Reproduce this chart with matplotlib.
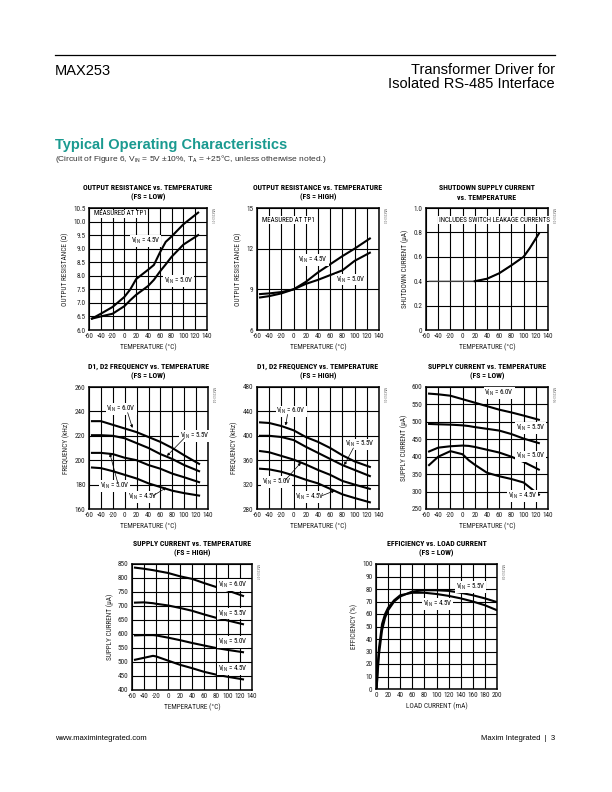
import matplotlib
matplotlib.use("Agg")
import matplotlib.pyplot as plt
from matplotlib import font_manager

# pick a narrow font if one is installed
fl = font_manager.fontManager.ttflist
names = {f.name for f in fl}
NARROW = None
for cand in ["Liberation Sans Narrow", "Roboto Condensed", "DejaVu Sans Condensed",
             "Open Sans Condensed", "Noto Sans Condensed"]:
    if cand in names:
        NARROW = cand
        break
STRETCH = "normal"
if NARROW is None:
    cond = [f for f in fl if f.stretch in ("condensed", "semi-condensed", "extra-condensed")
            or "Condensed" in f.name or "Narrow" in f.name]
    if cond:
        NARROW = cond[0].name
        STRETCH = cond[0].stretch if isinstance(cond[0].stretch, str) else "condensed"
if NARROW is None:
    NARROW = "DejaVu Sans"
    K = 0.82
else:
    K = 1.0
PAGE = "Liberation Sans" if "Liberation Sans" in names else "DejaVu Sans"
plt.rcParams["font.family"] = [NARROW, "DejaVu Sans"]
plt.rcParams["font.stretch"] = STRETCH
plt.rcParams["mathtext.fontset"] = "custom"
plt.rcParams["mathtext.rm"] = NARROW
plt.rcParams["mathtext.default"] = "rm"
plt.rcParams["axes.unicode_minus"] = False

# ---------------- data ----------------
temp = [-55, -40, -20, 0, 20, 40, 60, 80, 100, 125]

# output resistance FS=LOW
r_low_t = [-55, -40, -20, 0, 10, 20, 40, 50, 60, 70, 80, 100, 125]
r_low_45 = [6.42, 6.6, 6.85, 7.22, 7.5, 7.88, 8.22, 8.4, 8.85, 9.25, 9.45, 9.9, 10.33]
r_low_50 = [6.42, 6.5, 6.6, 6.88, 7.1, 7.3, 7.62, 7.85, 8.15, 8.42, 8.7, 9.15, 9.5]

# output resistance FS=HIGH
r_high_45 = [8.4, 8.5, 8.7, 9.0, 9.55, 10.25, 10.85, 11.45, 12.0, 12.75]
r_high_50 = [8.65, 8.7, 8.8, 9.0, 9.4, 9.7, 10.05, 10.4, 11.1, 11.7]

# shutdown current
sd_t = [-55, -40, -20, 0, 20, 30, 40, 60, 80, 100, 110, 125]
sd_i = [0.4, 0.4, 0.4, 0.4, 0.4, 0.41, 0.42, 0.465, 0.53, 0.6, 0.67, 0.79]

# D1, D2 frequency FS=LOW
f_low_60 = [232, 232, 229, 226, 223, 219, 215, 210, 204, 197]
f_low_55 = [220.5, 220.5, 220, 218, 214, 210, 205, 201, 196, 191]
f_low_50 = [206, 206, 205, 202, 200, 196, 193, 189, 186, 182]
f_low_45 = [194, 193.5, 191, 188, 185, 181, 178, 175, 173, 171]

# D1, D2 frequency FS=HIGH
f_high_60 = [422, 421, 416, 409, 398, 390, 380, 368, 358, 349]
f_high_55 = [400, 400, 398, 393, 382, 372, 362, 352, 344, 334]
f_high_50 = [375, 373, 367, 361, 353, 344, 336, 326, 320, 313]
f_high_45 = [346, 345, 341, 335, 328, 322, 313, 304, 298, 291]

# supply current FS=LOW
i_low_t = [-55, -40, -20, 0, 10, 20, 40, 60, 80, 100, 125]
i_low_60 = [581, 579, 575, 565, 560, 555, 545, 535, 527, 518, 506]
i_low_55 = [494, 493, 492, 490, 488, 485, 480, 475, 465, 452, 439]
i_low_50 = [415, 426, 430, 432, 431, 428, 420, 412, 400, 385, 363]
i_low_45 = [376, 400, 416, 407, 390, 377, 354, 344, 336, 326, 291]

# supply current FS=HIGH
i_high_t = [-55, -40, -25, -20, 0, 20, 40, 60, 80, 100, 125]
i_high_60 = [837, 833, 828, 826, 818, 806, 797, 782, 768, 755, 736]
i_high_55 = [712, 713, 710, 708, 702, 693, 683, 670, 658, 648, 635]
i_high_50 = [595, 596, 596, 595, 587, 578, 568, 559, 550, 543, 535]
i_high_45 = [508, 515, 522, 520, 505, 490, 478, 465, 455, 447, 438]

# efficiency vs load current
load = [1, 3, 5, 10, 15, 20, 30, 40, 60, 80, 100, 120, 140, 160, 180, 200]
eff_55 = [0, 15, 28, 47, 57, 63, 70, 74, 78, 79, 79, 78.5, 77, 75, 72.5, 69.5]
eff_45 = [0, 20, 33, 52, 60, 65, 71, 75, 77, 77, 76, 74.5, 72.5, 70, 67, 63]

VIN = r"V$_{\mathrm{IN}}$"

fig = plt.figure(figsize=(6.12, 7.92), dpi=100)
W, H = 612.0, 792.0


def ax_at(x0, y0, x1, y1):
    return fig.add_axes([x0 / W, 1 - y1 / H, (x1 - x0) / W, (y1 - y0) / H])


def style(ax, xlim, xticks, ylim, yticks, yfmt, xlabel, ylabel, title, code):
    ax.set_xlim(*xlim)
    ax.set_ylim(*ylim)
    ax.set_xticks(xticks)
    ax.set_yticks(yticks)
    ax.set_yticklabels([yfmt.format(v) for v in yticks])
    ax.tick_params(length=0, labelsize=5.2 * K, pad=2.5, labelcolor="#222222")
    ax.grid(True, color="black", lw=0.8)
    ax.set_axisbelow(True)
    for s in ax.spines.values():
        s.set_linewidth(1.1)
    ax.set_xlabel(xlabel, fontsize=5.2 * K, labelpad=2, color="#222222")
    ax.set_ylabel(ylabel, fontsize=5.2 * K, labelpad=3, color="#222222")
    ax.set_title(title, fontsize=5.6 * K, fontweight="bold", pad=6, linespacing=1.45)
    ax.text(1.02, 1.0, code, transform=ax.transAxes, rotation=270,
            fontsize=2.5, color="#777777", va="top", ha="left")


def lab(ax, x, y, s, ha="center"):
    ax.text(x, y, s, fontsize=5 * K, ha=ha, va="center", zorder=5,
            bbox=dict(facecolor="white", edgecolor="none", pad=0.5))


def arrow(ax, xy, xytext):
    ax.annotate("", xy=xy, xytext=xytext, zorder=6,
                arrowprops=dict(arrowstyle="-|>", lw=0.5, color="black",
                                mutation_scale=4, shrinkA=0, shrinkB=0))


TX = [-60, -40, -20, 0, 20, 40, 60, 80, 100, 120, 140]
TLAB = "TEMPERATURE (°C)"
LW = 1.5

# chart 1
ax = ax_at(89, 208, 207, 330)
ax.plot(r_low_t, r_low_45, color="black", lw=LW)
ax.plot(r_low_t, r_low_50, color="black", lw=LW)
style(ax, (-60, 140), TX, (6.0, 10.5), [6.0 + 0.5 * i for i in range(10)], "{:.1f}",
      TLAB, "OUTPUT RESISTANCE (Ω)", "OUTPUT RESISTANCE vs. TEMPERATURE\n(FS = LOW)", "MAX253-01")
lab(ax, -52, 10.28, "MEASURED AT TP1", ha="left")
lab(ax, 36, 9.28, VIN + " = 4.5V")
lab(ax, 92, 7.8, VIN + " = 5.0V")

# chart 2
ax = ax_at(257, 208, 379, 330)
ax.plot(temp, r_high_45, color="black", lw=LW)
ax.plot(temp, r_high_50, color="black", lw=LW)
style(ax, (-60, 140), TX, (6, 15), [6, 9, 12, 15], "{:d}",
      TLAB, "OUTPUT RESISTANCE (Ω)", "OUTPUT RESISTANCE vs. TEMPERATURE\n(FS = HIGH)", "MAX253-02")
lab(ax, -52, 14.1, "MEASURED AT TP1", ha="left")
lab(ax, 32, 11.15, VIN + " = 4.5V")
lab(ax, 93, 9.73, VIN + " = 5.0V")

# chart 3
ax = ax_at(426, 208, 548, 330)
ax.plot(sd_t, sd_i, color="#555555", lw=0.8)
ax.plot(sd_t[4:], sd_i[4:], color="black", lw=LW)
style(ax, (-60, 140), TX, (0, 1.0), [0, 0.2, 0.4, 0.6, 0.8, 1.0], "{:g}",
      TLAB, "SHUTDOWN CURRENT (µA)", "SHUTDOWN SUPPLY CURRENT\nvs. TEMPERATURE", "MAX253-03")
ax.set_yticklabels(["0", "0.2", "0.4", "0.6", "0.8", "1.0"])
lab(ax, 52, 0.9, "INCLUDES SWITCH LEAKAGE CURRENTS")

# chart 4
ax = ax_at(89, 387, 208, 509)
for ys in (f_low_60, f_low_55, f_low_50, f_low_45):
    ax.plot(temp, ys, color="black", lw=LW)
style(ax, (-60, 140), TX, (160, 260), [160, 180, 200, 220, 240, 260], "{:d}",
      TLAB, "FREQUENCY (kHz)", "D1, D2 FREQUENCY vs. TEMPERATURE\n(FS = LOW)", "MAX253-04")
lab(ax, -6, 242, VIN + " = 6.0V")
arrow(ax, (13, 226.5), (5, 239))
lab(ax, 117, 220, VIN + " = 5.5V")
arrow(ax, (71, 203.5), (100, 218))
lab(ax, -17, 179, VIN + " = 5.0V")
arrow(ax, (-25, 205.5), (-12, 182))
lab(ax, 30, 170, VIN + " = 4.5V")
arrow(ax, (70, 177.5), (48, 171))

# chart 5
ax = ax_at(257, 387, 379, 509)
for ys in (f_high_60, f_high_55, f_high_50, f_high_45):
    ax.plot(temp, ys, color="black", lw=LW)
style(ax, (-60, 140), TX, (280, 480), [280, 320, 360, 400, 440, 480], "{:d}",
      TLAB, "FREQUENCY (kHz)", "D1, D2 FREQUENCY vs. TEMPERATURE\n(FS = HIGH)", "MAX253-05")
lab(ax, -4, 440, VIN + " = 6.0V")
arrow(ax, (-13, 417), (-10, 435))
lab(ax, 109, 386, VIN + " = 5.5V")
arrow(ax, (83, 352), (98, 380))
lab(ax, -28, 324, VIN + " = 5.0V")
arrow(ax, (12, 356), (-14, 327))
lab(ax, 27, 300, VIN + " = 4.5V")
arrow(ax, (67, 310), (47, 302))

# chart 6
ax = ax_at(426, 387, 548, 509)
for ys in (i_low_60, i_low_55, i_low_50, i_low_45):
    ax.plot(i_low_t, ys, color="black", lw=LW)
style(ax, (-60, 140), TX, (250, 600), list(range(250, 601, 50)), "{:d}",
      TLAB, "SUPPLY CURRENT (µA)", "SUPPLY CURRENT vs. TEMPERATURE\n(FS = LOW)", "MAX253-06")
lab(ax, 60, 583, VIN + " = 6.0V")
lab(ax, 111, 482, VIN + " = 5.5V")
lab(ax, 111, 401, VIN + " = 5.0V")
lab(ax, 98, 287, VIN + " = 4.5V")

# chart 7
ax = ax_at(132, 564, 252, 690)
for ys in (i_high_60, i_high_55, i_high_50, i_high_45):
    ax.plot(i_high_t, ys, color="black", lw=LW)
style(ax, (-60, 140), TX, (400, 850), list(range(400, 851, 50)), "{:d}",
      TLAB, "SUPPLY CURRENT (µA)", "SUPPLY CURRENT vs. TEMPERATURE\n(FS = HIGH)", "MAX253-07")
lab(ax, 108, 776, VIN + " = 6.0V")
lab(ax, 108, 673, VIN + " = 5.5V")
lab(ax, 108, 572, VIN + " = 5.0V")
lab(ax, 108, 476, VIN + " = 4.5V")

# chart 8
ax = ax_at(376, 564, 497, 689)
ax.plot(load, eff_55, color="black", lw=LW)
ax.plot(load, eff_45, color="black", lw=LW)
style(ax, (0, 200), list(range(0, 201, 20)), (0, 100), list(range(0, 101, 10)), "{:d}",
      "LOAD CURRENT (mA)", "EFFICIENCY (%)", "EFFICIENCY vs. LOAD CURRENT\n(FS = LOW)", "MAX253-08")
lab(ax, 156, 81.5, VIN + " = 5.5V")
lab(ax, 102, 68, VIN + " = 4.5V")

# page text
fig.add_artist(plt.Line2D([55 / W, 555 / W], [1 - 54.5 / H, 1 - 54.5 / H], color="black", lw=0.9))
fig.text(55 / W, 1 - 71 / H, "MAX253", fontsize=10.5, family=PAGE, va="center")
fig.text(555 / W, 1 - 70 / H, "Transformer Driver for", fontsize=10.5, family=PAGE, va="center", ha="right")
fig.text(555 / W, 1 - 84 / H, "Isolated RS-485 Interface", fontsize=10.5, family=PAGE, va="center", ha="right")
fig.text(55 / W, 1 - 145 / H, "Typical Operating Characteristics", fontsize=10.5, family=PAGE,
         fontweight="bold", color="#1a9a90", va="center")
fig.text(55 / W, 1 - 159 / H,
         r"(Circuit of Figure 6, V$_{\mathrm{IN}}$ = 5V ±10%, T$_{\mathrm{A}}$ = +25°C, unless otherwise noted.)",
         fontsize=6, family=PAGE, color="#333333", va="center")
fig.text(55 / W, 1 - 739 / H, "www.maximintegrated.com", fontsize=5.5, family=PAGE, va="center")
fig.text(555 / W, 1 - 739 / H, "Maxim Integrated  |  3", fontsize=5.5, family=PAGE, va="center", ha="right")

fig.savefig("out.png", dpi=100)
